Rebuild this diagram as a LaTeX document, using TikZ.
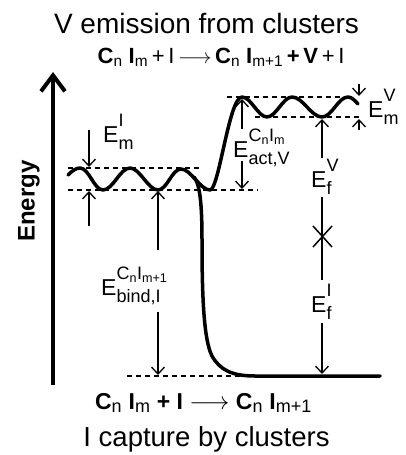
\documentclass[tikz,border=0pt]{standalone}
\usepackage{fontspec}
\usepackage{amsmath}
\setmainfont{Liberation Sans}
\usetikzlibrary{arrows.meta}
\DeclareMathSizes{23}{23}{18}{14}

% energy symbol with raised superscript and lowered subscript
\newcommand{\lev}[2]{${\mathrm{E}\rule[-7pt]{0pt}{29pt}}^{\text{#1}}_{\text{#2}}$}
\newcommand{\cl}[1]{C\textsubscript{\mdseries n} I\textsubscript{\mdseries #1}}

\begin{document}
\begin{tikzpicture}[
        x=1pt, y=-1pt,
        axis/.style={line width=4pt, -{Straight Barb[length=16pt,width=24pt]}},
        level/.style={line width=3.5pt, line cap=round, line join=round},
        guide/.style={line width=1.1pt, dash pattern=on 5pt off 4pt},
        gap/.style={line width=1.3pt, -{Straight Barb[length=7pt,width=13pt]}},
        lbl/.style={font=\fontsize{23}{27}\selectfont, inner sep=0pt, anchor=base west},
        big/.style={font=\fontsize{28}{32}\selectfont, inner sep=0pt, anchor=base},
        react/.style={font=\fontsize{22}{26}\selectfont\bfseries, inner sep=0pt, anchor=base},
    ]
        \useasboundingbox (0,0) rectangle (406,455);

        % Titles
        \node[react] (emit) at (221,63) {\cl{m}\,{\mdseries+\,I}\,$\longrightarrow$\,\cl{m+1}\,+\,V\,{\mdseries+\,I}};
        \node[big] (title) at (206.5,33) {V emission from clusters};
        \node[react, font=\fontsize{23}{27}\selectfont\bfseries] (capt) at (203.5,409) {\cl{m} + I $\longrightarrow$ \cl{m+1}};
        \node[big, font=\fontsize{27.5}{32}\selectfont] (capture) at (206.5,446) {I capture by clusters};

        % Axis
        \coordinate (axbot) at (53,385);
        \coordinate (axtop) at (53,72);
        \draw[axis] (axbot) -- (axtop);
        \node[rotate=90, font=\fontsize{24}{28}\selectfont\bfseries] (energy) at (29,201) {Energy};

        % Guide lines
        \draw[guide] (68,168) -- (200,168);
        \draw[guide] (68,190) -- (258,190);
        \draw[guide] (227,97) -- (353,97);
        \draw[guide] (255,117) -- (360,117);
        \draw[guide] (127,376) -- (240,376);

        % Energy curve
        \draw[level] (68,175) .. controls (72,171) and (76,168) .. (80,168)
            .. controls (89,168) and (94,190) .. (103,190)
            .. controls (113,190) and (120,168) .. (130,168)
            .. controls (140,168) and (148,190) .. (158,190)
            .. controls (167,190) and (172,169) .. (181,169)
            .. controls (191,169) and (200,190) .. (210,190)
            .. controls (219,190) and (229,97) .. (242,97)
            .. controls (251,97) and (258,117) .. (267,117)
            .. controls (276,117) and (283,97) .. (292,97)
            .. controls (303,97) and (311,117) .. (322,117)
            .. controls (332,117) and (338,97) .. (348,97)
            .. controls (352,97) and (355,101) .. (358,104);
        \draw[level] (194,177) .. controls (200,184) and (202,205) .. (202,240)
            .. controls (202,300) and (204,340) .. (212,356)
            .. controls (220,370) and (232,376) .. (255,376) -- (380,376);

        % Migration of I
        \coordinate (emIa) at (89,130);  \coordinate (emIb) at (89,167);
        \coordinate (emIc) at (89,226);  \coordinate (emId) at (89,191);
        \draw[gap] (emIa) -- (emIb);
        \draw[gap] (emIc) -- (emId);
        \node[lbl] (lblemI) at (103,142) {\lev{I}{m}};

        % Binding of I
        \coordinate (bindA) at (158,250); \coordinate (bindB) at (158,191);
        \coordinate (bindC) at (158,312); \coordinate (bindD) at (158,375);
        \draw[gap] (bindA) -- (bindB);
        \draw[gap] (bindC) -- (bindD);
        \node[lbl] (lblbind) at (101,295) {\lev{C\textsubscript{n}I\textsubscript{m+1}}{bind,I}};

        % Activation of V
        \coordinate (actA) at (242,129); \coordinate (actB) at (242,99);
        \coordinate (actC) at (242,161); \coordinate (actD) at (242,189);
        \draw[gap] (actA) -- (actB);
        \draw[gap] (actC) -- (actD);
        \node[lbl] (lblact) at (233,157) {\lev{C\textsubscript{n}I\textsubscript{m}}{act,V}};

        % Formation energies
        \coordinate (fVa) at (322,158); \coordinate (fVb) at (322,119);
        \coordinate (midA) at (322,197); \coordinate (midB) at (322,280);
        \coordinate (fIa) at (322,323); \coordinate (fIb) at (322,374);
        \draw[gap] (fVa) -- (fVb);
        \draw[line width=1.3pt] (midA) -- (midB);
        \draw[line width=1.5pt] (313,226) -- (332,247) (313,247) -- (332,226);
        \draw[gap] (fIa) -- (fIb);
        \node[lbl] (lblfV) at (311,187) {\lev{V}{f}};
        \node[lbl] (lblfI) at (311,312) {\lev{I}{f}};

        % Migration of V
        \coordinate (mVa) at (359,84);  \coordinate (mVb) at (359,96);
        \coordinate (mVc) at (359,130); \coordinate (mVd) at (359,119);
        \draw[gap] (mVa) -- (mVb);
        \draw[gap] (mVc) -- (mVd);
        \node[lbl] (lblmV) at (368,117) {\lev{V}{m}};

    \end{tikzpicture}
\end{document}
